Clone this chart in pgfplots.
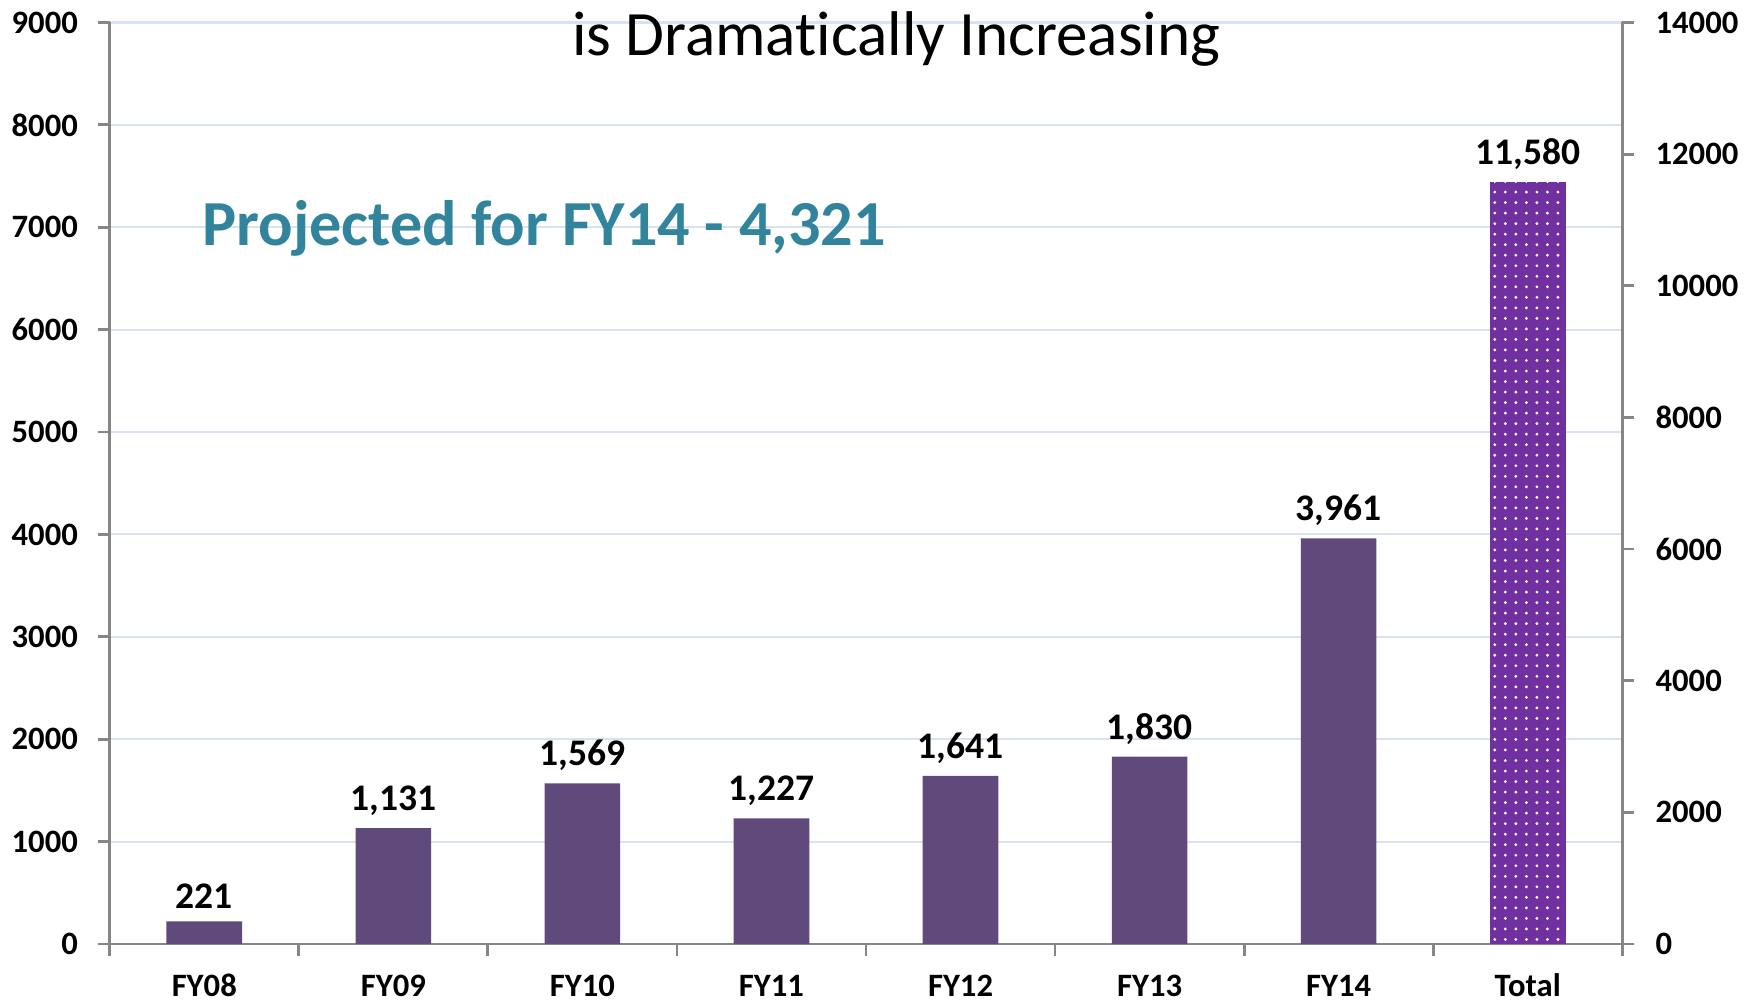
\documentclass[border=0pt]{standalone}
\usepackage{pgfplots}
\pgfplotsset{compat=1.18}
\usepackage{fontspec}
\setmainfont{Carlito}[Ligatures=NoCommon]
\usetikzlibrary{patterns.meta}
\definecolor{barpurple}{HTML}{604A7B}
\definecolor{totpurple}{HTML}{7030A0}
\definecolor{tealtxt}{HTML}{31849B}
\definecolor{gridblue}{HTML}{D9E2F3}
\definecolor{axgray}{HTML}{868686}
\tikzdeclarepattern{
  name=wdots,
  type=uncolored,
  bottom left={(-1pt,-1pt)},
  top right={(1pt,1pt)},
  tile size={(3pt,3pt)},
  code={\fill (0pt,0pt) circle (0.45pt);}
}
\begin{document}
\begin{tikzpicture}
\pgfplotsset{
  every axis/.append style={
    width=151.5mm, height=92.3mm, scale only axis,
    xmin=-0.5, xmax=7.5,
    ybar, bar width=0.4, ymin=0,
    scaled y ticks=false,
    tick align=outside, major tick length=1.2mm,
    axis line style={axgray, line width=0.8pt},
    tick style={axgray, line width=0.8pt},
    ticklabel style={font=\bfseries\fontsize{9.3}{10}\selectfont},
    /pgf/number format/assume math mode=true,
    /pgf/number format/1000 sep={},
    nodes near coords,
    every node near coord/.append style={font=\bfseries\fontsize{10.7}{12}\selectfont, black,
      /pgf/number format/1000 sep={,}, /pgf/number format/assume math mode=true},
  }
}
\begin{axis}[
  ymax=9000, ytick={0,1000,...,9000},
  axis x line*=bottom, axis y line*=left,
  ymajorgrids, grid style={gridblue, line width=0.6pt},
  xtick={-0.5,0.5,...,7.5},
  xticklabels={FY08,FY09,FY10,FY11,FY12,FY13,FY14,Total,{}},
  x tick label style={xshift=9.47mm, yshift=-1.33mm, text=black, inner ysep=0pt, text height=1.6ex, text depth=0.35ex},
  yticklabel style={xshift=-0.75mm, text=black},
  clip=false,
]
\addplot[fill=barpurple, draw=none] coordinates {
  (0,221) (1,1131) (2,1569) (3,1227) (4,1641) (5,1830) (6,3961)
};
\node[anchor=center, font=\fontsize{18}{22}\selectfont] at (rel axis cs:0.52,0.982) {is Dramatically Increasing};
\node[anchor=west, font=\bfseries\fontsize{18.3}{22}\selectfont, text=tealtxt] at (rel axis cs:0.053,0.777) {Projected for FY14 - 4,321};
\end{axis}
\begin{axis}[
  ymax=14000, ytick={0,2000,...,14000},
  axis y line*=right, axis x line=none,
  yticklabel style={xshift=0.9mm, text=black},
]
\addplot[fill=totpurple, draw=none, postaction={pattern=wdots, pattern color=white}] coordinates {
  (7,11580)
};
\end{axis}
\end{tikzpicture}
\end{document}
